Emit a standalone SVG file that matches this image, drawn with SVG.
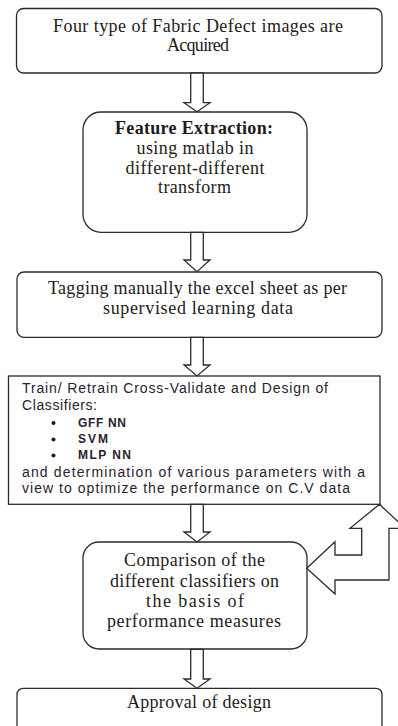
<svg xmlns="http://www.w3.org/2000/svg" width="398" height="726" viewBox="0 0 398 726">
<style>
.box{fill:#fff;stroke:#2b2b2b;stroke-width:1.3}
.arr{fill:#fff;stroke:#2b2b2b;stroke-width:1.3;stroke-linejoin:miter}
.t{font-family:"Liberation Serif","Times New Roman",serif;font-size:18px;fill:#1e1a18;text-anchor:middle}
.b{font-weight:bold}
.s{font-family:"Liberation Sans",Arial,sans-serif;font-size:14px;fill:#2a2030}
.sb{font-family:"Liberation Sans",Arial,sans-serif;font-size:12px;font-weight:bold;fill:#2a2030}
</style>
<rect width="398" height="726" fill="#fff"/>
<g id="n1">
<rect class="box" x="16.5" y="8.5" width="365.5" height="64.5" rx="7"/>
<text class="t" x="198" y="31.5" textLength="290" lengthAdjust="spacing">Four type of Fabric Defect images are</text>
<text class="t" x="198" y="51" textLength="62" lengthAdjust="spacing">Acquired</text>
</g>
<g id="n2">
<rect class="box" x="83" y="112" width="224" height="120.3" rx="18"/>
<text class="t b" x="194" y="134.3" textLength="158" lengthAdjust="spacing">Feature Extraction:</text>
<text class="t" x="195" y="154" textLength="117" lengthAdjust="spacing">using matlab in</text>
<text class="t" x="195" y="173.6" textLength="139" lengthAdjust="spacing">different-different</text>
<text class="t" x="194.5" y="193.3" textLength="73" lengthAdjust="spacing">transform</text>
</g>
<g id="n3">
<rect class="box" x="17" y="272" width="365" height="65.3" rx="7"/>
<text class="t" x="197.5" y="294" textLength="299" lengthAdjust="spacing">Tagging manually the excel sheet as per</text>
<text class="t" x="198" y="313.5" textLength="190" lengthAdjust="spacing">supervised learning data</text>
</g>
<g id="n4">
<rect class="box" x="8.5" y="376" width="371.5" height="128.3"/>
<text class="s" x="22" y="392.7" textLength="306" lengthAdjust="spacing">Train/ Retrain Cross-Validate and Design of</text>
<text class="s" x="22" y="410" textLength="75" lengthAdjust="spacing">Classifiers:</text>
<circle cx="53.5" cy="423" r="2" fill="#1e1a18"/>
<circle cx="53.5" cy="439.5" r="2" fill="#1e1a18"/>
<circle cx="53.5" cy="455.5" r="2" fill="#1e1a18"/>
<text class="sb" x="78" y="427" textLength="48" lengthAdjust="spacing">GFF NN</text>
<text class="sb" x="78" y="443.3" textLength="30" lengthAdjust="spacing">SVM</text>
<text class="sb" x="78" y="459.3" textLength="53" lengthAdjust="spacing">MLP NN</text>
<text class="s" x="22" y="476.7" textLength="343" lengthAdjust="spacing">and determination of various parameters with a</text>
<text class="s" x="22" y="493" textLength="328" lengthAdjust="spacing">view to optimize the performance on C.V data</text>
</g>
<g id="n5">
<rect class="box" x="83" y="542" width="224" height="107" rx="16"/>
<text class="t" x="194.5" y="566" textLength="141" lengthAdjust="spacing">Comparison of the</text>
<text class="t" x="194.5" y="586.7" textLength="169" lengthAdjust="spacing">different classifiers on</text>
<text class="t" x="195" y="606.7" textLength="98" lengthAdjust="spacing">the basis of</text>
<text class="t" x="194" y="627" textLength="174" lengthAdjust="spacing">performance measures</text>
</g>
<g id="n6">
<rect class="box" x="17" y="688.3" width="365" height="60" rx="6"/>
<text class="t" x="199" y="708" textLength="144" lengthAdjust="spacing">Approval of design</text>
</g>
<g id="connectors">
<polygon class="arr" points="190.7,73 190.7,102.7 184,102.7 197,111.7 210,102.7 203.3,102.7 203.3,73"/>
<polygon class="arr" points="190.7,232.3 190.7,260 184,260 197,271.7 210,260 203.3,260 203.3,232.3"/>
<polygon class="arr" points="190.7,337.3 190.7,365 184,365 197,376 210,365 203.3,365 203.3,337.3"/>
<polygon class="arr" points="190.7,504.3 190.7,532 184,532 197,542 210,532 203.3,532 203.3,504.3"/>
<polygon class="arr" points="190.7,649.3 190.7,679 184,679 197,688.3 210,679 203.3,679 203.3,649.3"/>
<polygon class="arr" points="306.7,568.3 335,541.7 335,555 361.7,555 361.7,528.3 350,528.3 379.5,504.3 405,528.3 389,528.3 389,580 335,580 335,594"/>
</g>
</svg>
